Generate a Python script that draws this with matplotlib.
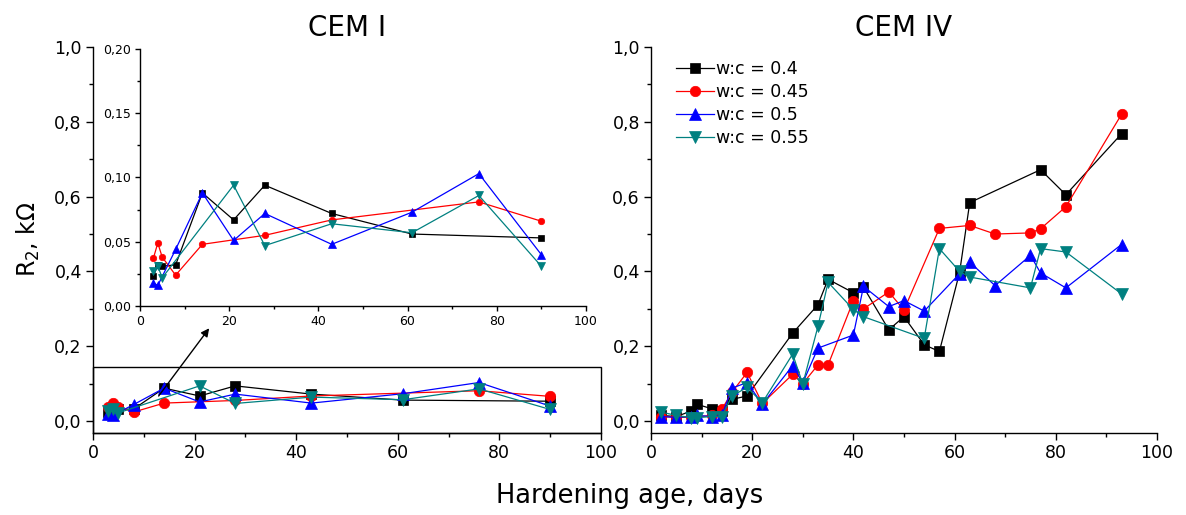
import matplotlib
matplotlib.use("Agg")
import matplotlib.pyplot as plt
from matplotlib.patches import Rectangle
from matplotlib.ticker import FuncFormatter, MultipleLocator

plt.rcParams["font.family"] = ["DejaVu Sans"]

# ---- CEM I (same data in main panel and inset) ----
cem1_wc04_days = [3, 4, 5, 8, 14, 21, 28, 43, 61, 90]
cem1_wc04 = [0.023, 0.032, 0.031, 0.032, 0.088, 0.067, 0.094, 0.072, 0.056, 0.053]
cem1_wc045_days = [3, 4, 5, 8, 14, 28, 43, 76, 90]
cem1_wc045 = [0.037, 0.049, 0.038, 0.024, 0.048, 0.055, 0.067, 0.081, 0.066]
cem1_wc05_days = [3, 4, 8, 14, 21, 28, 43, 61, 76, 90]
cem1_wc05 = [0.018, 0.016, 0.044, 0.088, 0.051, 0.072, 0.048, 0.073, 0.103, 0.040]
cem1_wc055_days = [3, 4, 5, 21, 28, 43, 61, 76, 90]
cem1_wc055 = [0.027, 0.031, 0.022, 0.094, 0.047, 0.064, 0.057, 0.086, 0.031]

# ---- CEM IV ----
cem4_wc04_days = [2, 5, 8, 9, 12, 14, 16, 19, 28, 33, 35, 40, 42, 47, 50, 54,
                  57, 61, 63, 77, 82, 93]
cem4_wc04 = [0.015, 0.012, 0.027, 0.045, 0.033, 0.028, 0.058, 0.067, 0.235,
             0.311, 0.379, 0.343, 0.358, 0.244, 0.279, 0.204, 0.186, 0.398,
             0.584, 0.672, 0.605, 0.768]
cem4_wc045_days = [2, 5, 8, 12, 14, 16, 19, 22, 28, 30, 33, 35, 40, 42, 47, 50,
                   57, 63, 68, 75, 77, 82, 93]
cem4_wc045 = [0.012, 0.010, 0.010, 0.015, 0.031, 0.077, 0.130, 0.047, 0.125,
              0.100, 0.150, 0.150, 0.322, 0.300, 0.345, 0.297, 0.515, 0.523,
              0.500, 0.503, 0.514, 0.573, 0.820]
cem4_wc05_days = [2, 5, 8, 9, 12, 14, 16, 19, 22, 28, 30, 33, 40, 42, 47, 50,
                  54, 61, 63, 68, 75, 77, 82, 93]
cem4_wc05 = [0.012, 0.010, 0.012, 0.015, 0.012, 0.015, 0.088, 0.103, 0.045,
             0.148, 0.102, 0.195, 0.230, 0.360, 0.306, 0.322, 0.294, 0.394,
             0.425, 0.362, 0.443, 0.396, 0.356, 0.472]
cem4_wc055_days = [2, 5, 8, 9, 12, 14, 16, 19, 22, 28, 30, 33, 35, 40, 42, 54,
                   57, 61, 63, 75, 77, 82, 93]
cem4_wc055 = [0.024, 0.015, 0.009, 0.009, 0.012, 0.012, 0.067, 0.090, 0.049,
              0.179, 0.099, 0.253, 0.371, 0.298, 0.279, 0.221, 0.461, 0.400,
              0.385, 0.356, 0.461, 0.452, 0.340]

labels = ["w:c = 0.4", "w:c = 0.45", "w:c = 0.5", "w:c = 0.55"]
colors = ["black", "#ff0000", "#0000ff", "#008080"]
markers = ["s", "o", "^", "v"]
msizes = [6.5, 7.5, 8.5, 8.5]

cem1 = [(cem1_wc04_days, cem1_wc04), (cem1_wc045_days, cem1_wc045),
        (cem1_wc05_days, cem1_wc05), (cem1_wc055_days, cem1_wc055)]
cem4 = [(cem4_wc04_days, cem4_wc04), (cem4_wc045_days, cem4_wc045),
        (cem4_wc05_days, cem4_wc05), (cem4_wc055_days, cem4_wc055)]


def comma_fmt(decimals):
    return FuncFormatter(lambda v, p: f"{v:.{decimals}f}".replace(".", ","))


def style_axes(ax, ymajor, yminor, decimals, fs, major_len, minor_len):
    for side in ("top", "right"):
        ax.spines[side].set_visible(False)
    for side in ("left", "bottom"):
        ax.spines[side].set_linewidth(1.0)
    ax.xaxis.set_major_locator(MultipleLocator(20))
    ax.xaxis.set_minor_locator(MultipleLocator(10))
    ax.yaxis.set_major_locator(MultipleLocator(ymajor))
    ax.yaxis.set_minor_locator(MultipleLocator(yminor))
    ax.yaxis.set_major_formatter(comma_fmt(decimals))
    ax.tick_params(which="major", direction="out", length=major_len, width=1,
                   labelsize=fs, pad=3)
    ax.tick_params(which="minor", direction="out", length=minor_len, width=1)


def plot_series(ax, data, scale=1.0):
    handles = []
    for (d, v), c, m, ms, lab in zip(data, colors, markers, msizes, labels):
        h, = ax.plot(d, v, color=c, marker=m, ms=ms * scale, lw=0.9,
                     markeredgewidth=0.5, label=lab)
        handles.append(h)
    return handles


fig = plt.figure(figsize=(11.86, 5.15), dpi=100)
ax1 = fig.add_axes([0.0784, 0.1592, 0.4283, 0.7495])
ax2 = fig.add_axes([0.5489, 0.1592, 0.4266, 0.7495])

for ax, data, title in ((ax1, cem1, "CEM I"), (ax2, cem4, "CEM IV")):
    plot_series(ax, data)
    ax.set_xlim(0, 100)
    ax.set_ylim(-0.032, 1.0)
    style_axes(ax, 0.2, 0.1, 1, 12.5, 5, 3)
    ax.set_title(title, fontsize=20, pad=8)

# zoomed region marker on CEM I
ax1.add_patch(Rectangle((0, -0.032), 100, 0.177, fill=False, edgecolor="black",
                        lw=1.0, clip_on=False, zorder=5))
ax1.annotate("", xy=(23.2, 0.254), xytext=(12.6, 0.061),
             arrowprops=dict(arrowstyle="-|>", color="black", lw=1.0,
                             mutation_scale=12))

# inset
axin = fig.add_axes([0.118, 0.4058, 0.376, 0.4991])
plot_series(axin, cem1, scale=0.62)
axin.set_xlim(0, 100)
axin.set_ylim(0, 0.2)
style_axes(axin, 0.05, 0.025, 2, 9, 3.5, 2)

handles = ax2.get_legend_handles_labels()
ax2.legend(*handles, loc="upper left", bbox_to_anchor=(0.035, 0.985),
           frameon=False, fontsize=12.5, handlelength=2.2, handletextpad=0.15,
           labelspacing=0.3, borderaxespad=0)

fig.text(0.531, 0.037, "Hardening age, days", ha="center", va="center",
         fontsize=18.5)
fig.text(0.024, 0.535, "R$_2$, k\u03a9", ha="center", va="center",
         rotation=90, fontsize=17)

fig.savefig("out.png", dpi=100)
